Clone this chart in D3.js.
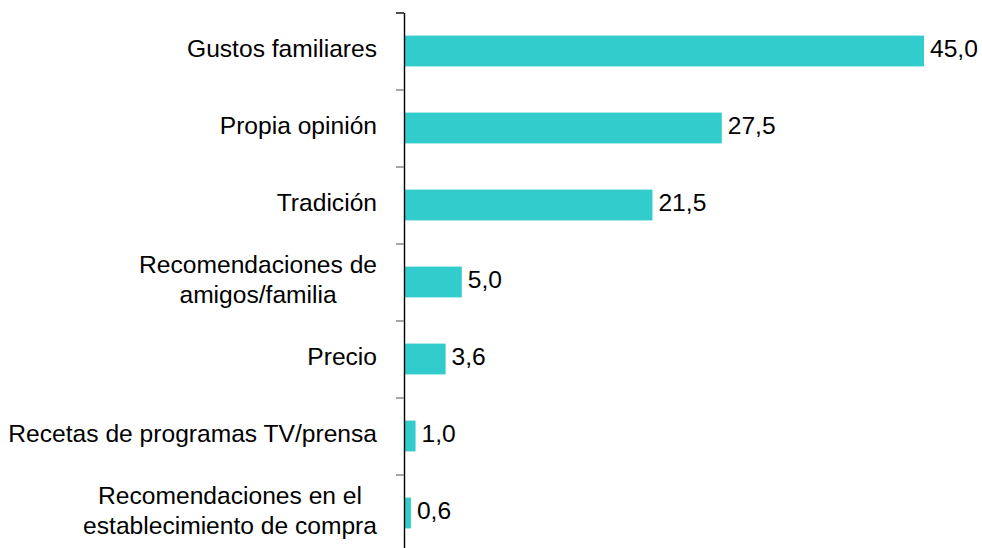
<!DOCTYPE html>
<html>
<head>
<meta charset="utf-8">
<script src="https://cdn.jsdelivr.net/npm/d3@7"></script>
<style>
  html, body { margin: 0; padding: 0; background: #fff; }
  text { font-family: "Liberation Sans", Arial, sans-serif; fill: #000; }
</style>
</head>
<body>
<div id="chart"></div>
<script>
const WIDTH = 982;
const HEIGHT = 548;

const categories = [
  'Gustos familiares',
  'Propia opinión',
  'Tradición',
  'Recomendaciones de amigos/familia',
  'Precio',
  'Recetas de programas TV/prensa',
  'Recomendaciones en el establecimiento de compra'
];

// how each category label wraps
const labelLines = [
  ['Gustos familiares'],
  ['Propia opinión'],
  ['Tradición'],
  ['Recomendaciones de', 'amigos/familia'],
  ['Precio'],
  ['Recetas de programas TV/prensa'],
  ['Recomendaciones en el', 'establecimiento de compra']
];

const values = [45.0, 27.5, 21.5, 5.0, 3.6, 1.0, 0.6];

const formatValue = d => d.toFixed(1).replace('.', ',');

function translate(x, y) {
  return `translate(${x}, ${y})`;
}

const svg = d3.select('#chart').append('svg')
  .attr('width', WIDTH)
  .attr('height', HEIGHT);

const x = d3.scaleLinear()
  .domain([0, 45])
  .range([404, 924]);

const y = d3.scaleBand()
  .domain(categories)
  .range([12.5, 551.5])
  .paddingInner(0.6)
  .paddingOuter(0.3);

// boundaries between categories, for the tick marks
const yEdges = d3.scaleLinear()
  .domain([0, categories.length])
  .range([12.5, 551.5]);

const fontSize = 24.6;

// bars
svg.append('g')
  .selectAll('rect')
  .data(values)
  .join('rect')
  .attr('x', x(0))
  .attr('y', (d, i) => y(categories[i]))
  .attr('width', d => x(d) - x(0))
  .attr('height', y.bandwidth())
  .attr('fill', '#33CCCC');

// value labels
svg.append('g')
  .selectAll('text')
  .data(values)
  .join('text')
  .attr('x', d => x(d) + 6)
  .attr('y', (d, i) => y(categories[i]) + y.bandwidth() / 2 + 6)
  .attr('font-size', fontSize)
  .text(formatValue);

// axis
const yAxis = d3.axisLeft(yEdges)
  .tickValues(d3.range(categories.length + 1))
  .tickFormat('')
  .tickSize(8)
  .tickSizeOuter(0);

const axisG = svg.append('g')
  .attr('transform', translate(x(0), 0))
  .call(yAxis);

axisG.select('.domain')
  .attr('stroke', '#000')
  .attr('stroke-width', 1.4);
axisG.selectAll('.tick line')
  .attr('stroke', (d, i) => i === 0 ? '#000' : '#808080')
  .attr('stroke-width', 1.4);

// category labels, right aligned, wrapped lines centred on each other
const labelRight = 377;
const lineHeight = 30;

labelLines.forEach((lines, i) => {
  const cy = y(categories[i]) + y.bandwidth() / 2;
  const g = svg.append('g');
  const texts = lines.map((line, j) => g.append('text')
    .attr('font-size', fontSize)
    .attr('y', cy + 6 + (j - (lines.length - 1) / 2) * lineHeight)
    .text(line));
  const maxW = d3.max(texts, t => t.node().getComputedTextLength());
  texts.forEach(t => t
    .attr('text-anchor', 'middle')
    .attr('x', labelRight - maxW / 2));
});
</script>
</body>
</html>
